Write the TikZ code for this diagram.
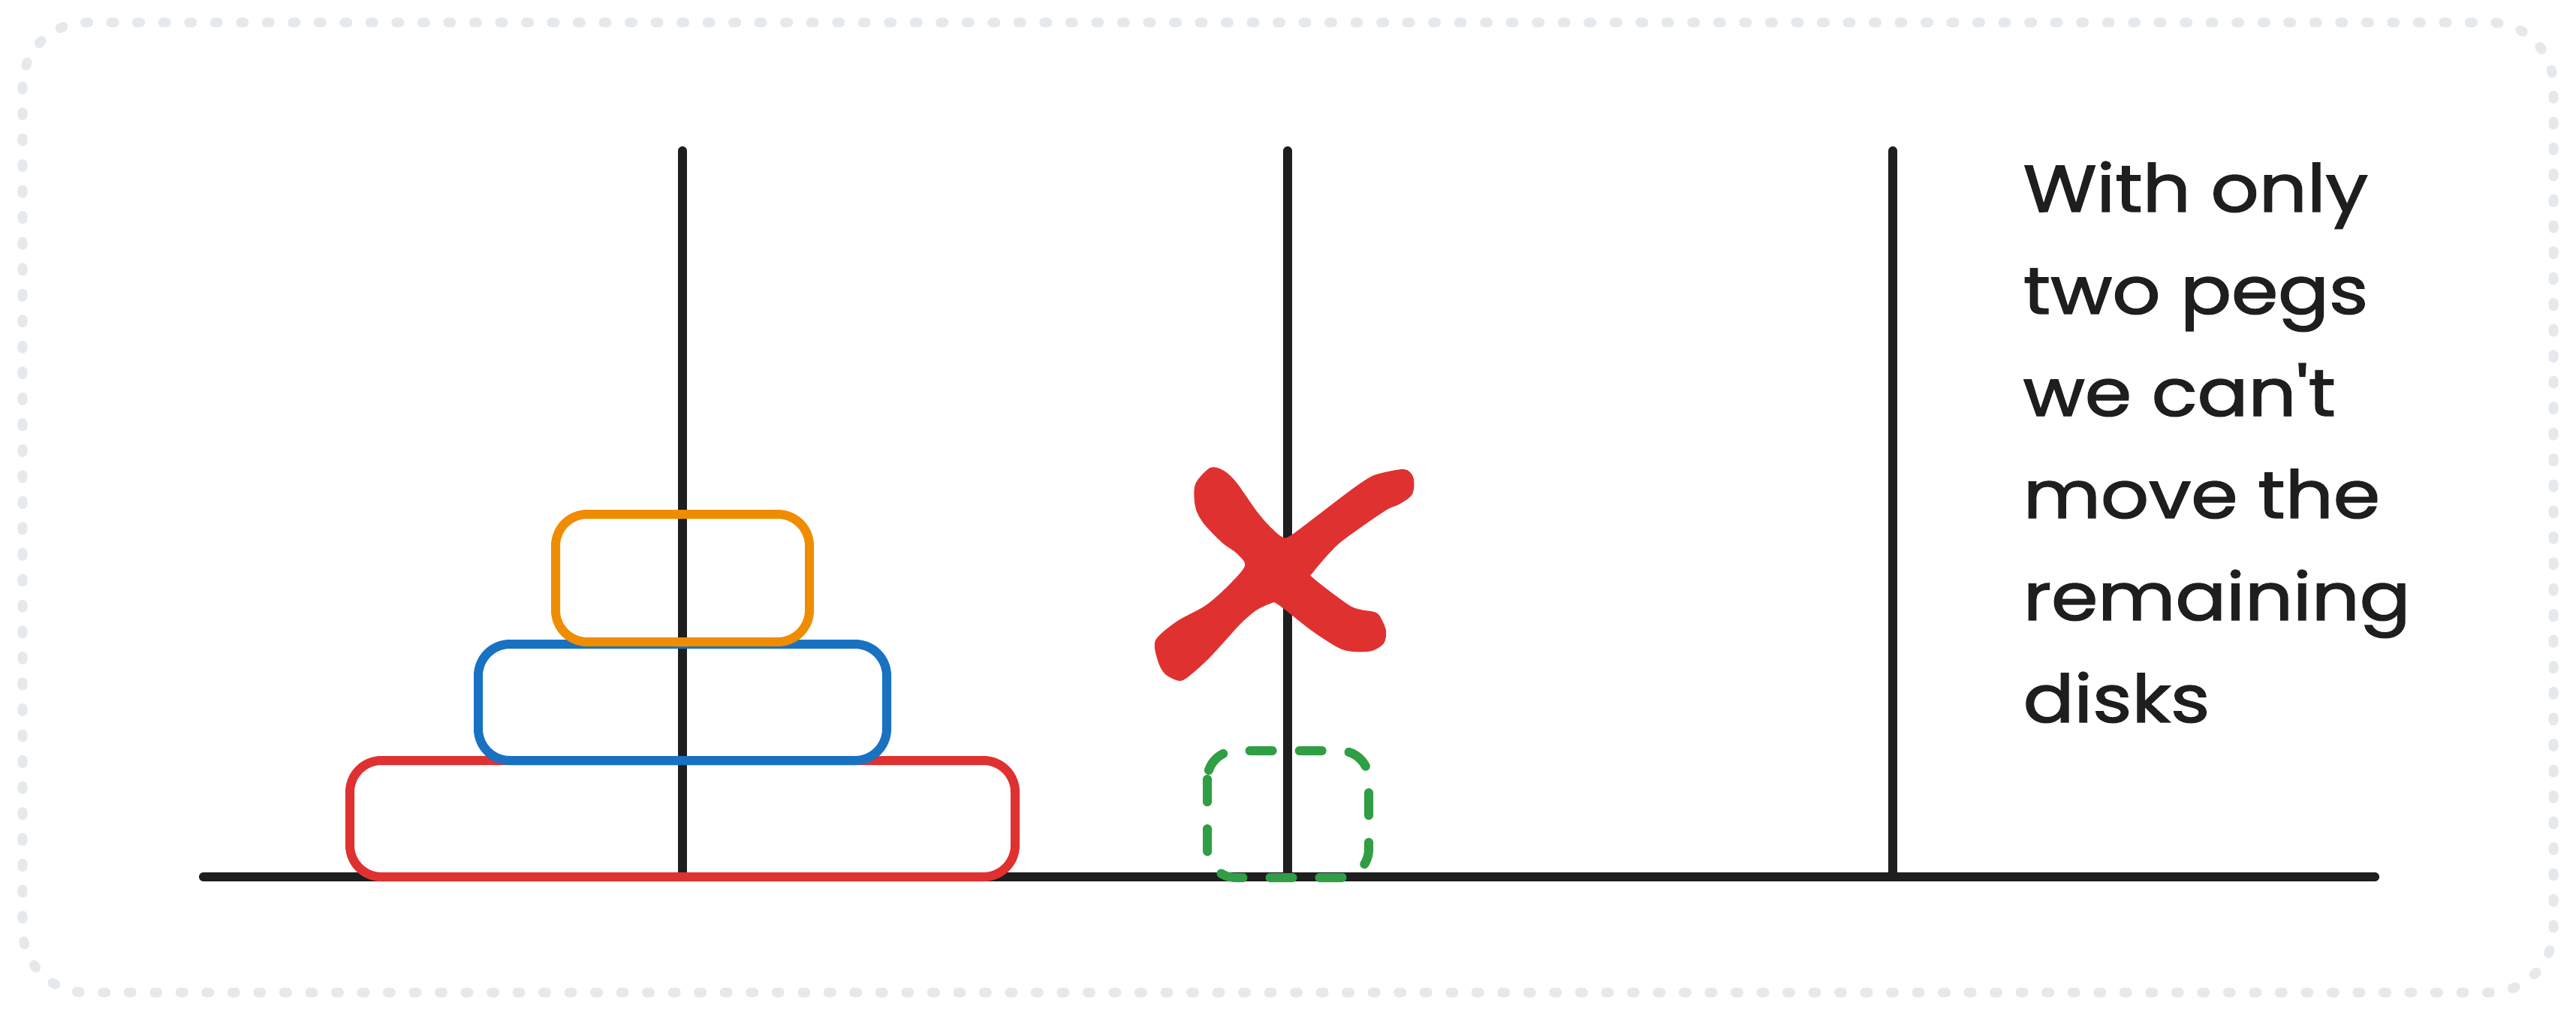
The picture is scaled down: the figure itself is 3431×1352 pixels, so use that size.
\documentclass[tikz,border=0pt]{standalone}
\usepackage{fontspec}
\setmainfont{Poppins}
\newfontfamily\handfont{Poppins}[FakeBold=1.6]
\definecolor{ink}{HTML}{1E1E1E}
\definecolor{xred}{HTML}{E03131}
\definecolor{xblue}{HTML}{1971C2}
\definecolor{xorange}{HTML}{F08C00}
\definecolor{xgreen}{HTML}{2F9E44}
\definecolor{xborder}{HTML}{E6E9EC}
\newcommand{\handline}[1]{\scalebox{1.14}[1]{#1}}
\begin{document}
\begin{tikzpicture}[x=0.01cm,y=-0.01cm,
  frame/.style={draw=xborder,line width=0.13cm,line cap=round,dash pattern=on 0.04cm off 0.305cm,rounded corners=0.85cm},
  stroke/.style={draw=ink,line width=0.12cm,line cap=round},
  disk/.style={line width=0.12cm,rounded corners=0.42cm},
  hole/.style={draw=xgreen,line width=0.12cm,line cap=round,dash pattern=on 0.3cm off 0.36cm,rounded corners=0.38cm},
  txt/.style={anchor=base west,inner sep=0pt,text=ink,font=\fontsize{25pt}{30pt}\handfont}]
\useasboundingbox (0,0) rectangle (3431,1352);
\draw[frame] (30,30) rectangle (3401,1322);
% base and pegs
\coordinate (bl) at (271,1168);
\coordinate (br) at (3163,1168);
\coordinate (p1t) at (909,201);
\coordinate (p1b) at (909,1168);
\coordinate (p2t) at (1715,201);
\coordinate (p2b) at (1715,1168);
\coordinate (p3t) at (2521,201);
\coordinate (p3b) at (2521,1168);
\draw[stroke] (bl) -- (br);
\draw[stroke] (p1t) -- (p1b);
\draw[stroke] (p2t) -- (p2b);
\draw[stroke] (p3t) -- (p3b);
% disks
\draw[disk,draw=xred] (466,1013) rectangle (1352,1168);
\draw[disk,draw=xblue] (637,858) rectangle (1181,1013);
\draw[disk,draw=xorange] (740,685) rectangle (1078,855);
% empty slot
\draw[hole] (1608,1000) rectangle (1823,1169);
% cross
\fill[xred] plot[smooth cycle,tension=0.5] coordinates {
 (1592,645) (1612,623) (1630,627) (1647,643) (1673,680) (1690,700) (1707,715)
 (1718,714) (1753,688) (1787,662) (1813,643) (1833,632) (1870,625) (1882,635)
 (1883,652) (1878,662) (1863,672) (1847,679) (1813,702) (1780,727) (1749,762)
 (1749,770) (1795,805) (1812,812) (1830,815) (1838,821) (1846,840) (1843,857)
 (1827,867) (1803,868) (1783,863) (1747,840) (1702,805) (1692,804) (1673,813)
 (1653,830) (1633,852) (1610,877) (1588,897) (1572,907) (1552,898) (1542,880)
 (1539,853) (1567,828) (1605,807) (1633,783) (1658,754) (1647,737) (1628,723)
 (1603,697) (1592,675)};
% text
\node[txt] (t1) at (2694,282) {\handline{With only}};
\node[txt] (t2) at (2694,418) {\handline{two pegs}};
\node[txt] (t3) at (2694,554) {\handline{we can't}};
\node[txt] (t4) at (2694,690) {\handline{move the}};
\node[txt] (t5) at (2694,826) {\handline{remaining}};
\node[txt] (t6) at (2694,962) {\handline{disks}};
\end{tikzpicture}
\end{document}
